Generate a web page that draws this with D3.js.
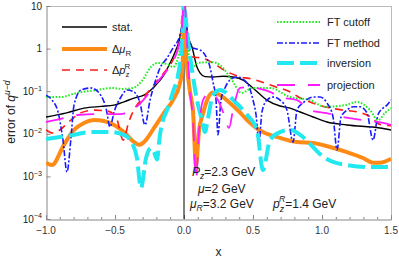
<!DOCTYPE html>
<html><head><meta charset="utf-8">
<script src="https://cdn.jsdelivr.net/npm/d3@7"></script>
<style>body{margin:0;background:#fff}svg{display:block;font-family:"Liberation Sans",Arial,sans-serif}</style>
</head><body><svg id="c" width="399" height="260"></svg>
<script>
// ---- data (x, error) ----
const stat = [[-1,0.0248],[-0.85,0.031],[-0.725,0.040],[-0.6,0.044],[-0.507,0.047],[-0.43,0.057],[-0.362,0.069],[-0.29,0.081],[-0.217,0.126],[-0.145,0.24],[-0.101,0.46],[-0.06,0.9],[-0.029,1.87],[-0.01,5],[0,15],[0.01,6],[0.022,2.3],[0.058,1.09],[0.094,0.37],[0.116,0.27],[0.152,0.22],[0.21,0.215],[0.283,0.225],[0.355,0.215],[0.428,0.183],[0.5,0.119],[0.6,0.062],[0.696,0.045],[0.768,0.040],[0.841,0.0325],[0.935,0.0248],[1.036,0.0189],[1.181,0.0161],[1.42,0.0137],[1.5,0.0123]];
const dMuR = [[-1,0.0021],[-0.957,0.00185],[-0.87,0.0055],[-0.797,0.0123],[-0.725,0.018],[-0.652,0.021],[-0.58,0.020],[-0.507,0.0161],[-0.435,0.011],[-0.362,0.0064],[-0.326,0.0055],[-0.29,0.0064],[-0.217,0.0137],[-0.145,0.031],[-0.08,0.062],[-0.03,0.15],[-0.014,0.3],[-0.004,1.0],[0.003,2.7],[0.012,1.0],[0.022,0.37],[0.045,0.09],[0.065,0.035],[0.087,0.0018],[0.109,0.012],[0.138,0.03],[0.17,0.065],[0.21,0.093],[0.25,0.085],[0.333,0.053],[0.4,0.033],[0.457,0.021],[0.52,0.014],[0.572,0.011],[0.696,0.008],[0.819,0.0064],[0.935,0.0061],[1.058,0.0049],[1.181,0.0037],[1.297,0.0027],[1.37,0.0021],[1.42,0.0021],[1.5,0.0026]];
const dPzR = [[-1,0.0123],[-0.95,0.0104],[-0.9,0.0123],[-0.82,0.021],[-0.75,0.031],[-0.65,0.036],[-0.55,0.034],[-0.49,0.0235],[-0.44,0.0071],[-0.4,0.019],[-0.35,0.043],[-0.29,0.073],[-0.2,0.165],[-0.145,0.27],[-0.08,0.54],[-0.03,1.59],[0,15],[0.03,1.59],[0.058,0.64],[0.13,0.60],[0.2,0.48],[0.3,0.30],[0.4,0.22],[0.5,0.19],[0.6,0.15],[0.667,0.126],[0.77,0.096],[0.83,0.073],[0.93,0.053],[1.0,0.045],[1.15,0.036],[1.25,0.033],[1.35,0.025],[1.42,0.0165],[1.5,0.0155]];
const ftCutoff = [[-1,0.073],[-0.9,0.073],[-0.775,0.091],[-0.63,0.107],[-0.514,0.119],[-0.45,0.113],[-0.37,0.119],[-0.3,0.183],[-0.24,0.37],[-0.19,0.46],[-0.12,0.43],[-0.08,0.37],[-0.03,0.93],[-0.007,8.1],[0,15],[0.007,10],[0.029,0.93],[0.065,0.37],[0.101,0.46],[0.21,0.48],[0.261,0.41],[0.333,0.215],[0.42,0.091],[0.493,0.119],[0.623,0.119],[0.768,0.073],[0.913,0.062],[1.022,0.043],[1.167,0.047],[1.254,0.056],[1.348,0.036],[1.406,0.021],[1.457,0.031],[1.5,0.040]];
const ftMethod = [[-1,0.081],[-0.957,0.062],[-0.913,0.0325],[-0.877,0.0071],[-0.848,0.00127],[-0.819,0.008],[-0.797,0.047],[-0.746,0.107],[-0.674,0.119],[-0.601,0.078],[-0.565,0.04],[-0.536,0.0145],[-0.507,0.0325],[-0.457,0.073],[-0.413,0.107],[-0.362,0.096],[-0.319,0.053],[-0.283,0.0161],[-0.246,0.062],[-0.21,0.164],[-0.174,0.35],[-0.123,0.60],[-0.08,1.03],[-0.029,2.1],[-0.007,6.1],[0,15],[0.007,8.1],[0.029,2.1],[0.065,1.03],[0.116,0.93],[0.152,0.71],[0.188,0.37],[0.21,0.164],[0.232,0.062],[0.246,0.0094],[0.268,0.062],[0.297,0.119],[0.333,0.183],[0.384,0.215],[0.457,0.156],[0.5,0.062],[0.522,0.028],[0.543,0.0064],[0.565,0.0325],[0.601,0.062],[0.645,0.073],[0.696,0.062],[0.746,0.036],[0.79,0.0064],[0.819,0.036],[0.862,0.053],[0.935,0.073],[0.986,0.073],[1.036,0.053],[1.08,0.0248],[1.109,0.0042],[1.138,0.0248],[1.181,0.036],[1.225,0.043],[1.275,0.043],[1.326,0.031],[1.37,0.0071],[1.406,0.028],[1.442,0.040],[1.471,0.047],[1.5,0.062]];
const inversion = [[-1,0.0075],[-0.899,0.0084],[-0.804,0.0094],[-0.681,0.011],[-0.536,0.011],[-0.435,0.0094],[-0.377,0.0061],[-0.341,0.0027],[-0.312,0.00053],[-0.275,0.0027],[-0.239,0.0046],[-0.217,0.0037],[-0.196,0.0025],[-0.174,0.0095],[-0.152,0.021],[-0.123,0.036],[-0.08,0.096],[-0.043,0.24],[-0.022,0.71],[-0.007,3.6],[0,15],[0.007,8],[0.029,1.59],[0.058,0.315],[0.094,0.062],[0.13,0.021],[0.152,0.011],[0.174,0.0235],[0.21,0.081],[0.261,0.107],[0.37,0.056],[0.457,0.028],[0.529,0.0123],[0.572,0.00141],[0.623,0.0071],[0.696,0.011],[0.768,0.0123],[0.862,0.0084],[0.935,0.0049],[1.007,0.0029],[1.08,0.0022],[1.181,0.00185],[1.326,0.00166],[1.5,0.00166]];
const projection = [[-1,0.0189],[-0.899,0.0222],[-0.754,0.028],[-0.609,0.029],[-0.464,0.029],[-0.355,0.040],[-0.283,0.069],[-0.21,0.14],[-0.138,0.27],[-0.087,0.46],[-0.043,1.03],[-0.014,3.6],[0,15],[0.007,10],[0.022,1.35],[0.043,0.107],[0.065,0.021],[0.087,0.00082],[0.109,0.0123],[0.138,0.062],[0.188,0.091],[0.246,0.062],[0.29,0.028],[0.326,0.0137],[0.355,0.036],[0.406,0.119],[0.478,0.126],[0.551,0.113],[0.623,0.096],[0.696,0.073],[0.819,0.062],[0.913,0.036],[1.022,0.031],[1.152,0.0248],[1.297,0.021],[1.442,0.018],[1.5,0.0161]];

const xTicks = [-1.0,-0.5,0.0,0.5,1.0,1.5];
const xTickLabels = ["\u22121.0","\u22120.5","0.0","0.5","1.0","1.5"];
const yTickExps = [1,0,-1,-2,-3,-4];

// ---- layout ----
const svg = d3.select("#c");
const L = 46, R = 391, T = 6, B = 219;
const x = d3.scaleLinear().domain([-1,1.5]).range([L,R]);
const y = d3.scaleLog().domain([1e-4,10]).range([B,T]);

svg.append("defs").append("clipPath").attr("id","clip")
  .append("rect").attr("x",L).attr("y",T).attr("width",R-L).attr("height",B-T);

function rich(sel, px, py, parts, fs, anchor, subOff, supOff) {
  const t = sel.append("text").attr("x",px).attr("y",py).attr("font-size",fs)
    .attr("text-anchor",anchor||"start").attr("fill","#222");
  let cur = 0;
  const so = subOff==null ? 0.3 : subOff;
  const su = supOff==null ? 0.42 : supOff;
  parts.forEach(p => {
    const [s, mode, it, dx] = p;
    const off = mode===1 ? so*fs : mode===2 ? -su*fs : 0;
    const ts = t.append("tspan").attr("dy", off-cur).text(s);
    if (dx) ts.attr("dx", dx);
    cur = off;
    if (mode) ts.attr("font-size", fs*0.72);
    if (it) ts.attr("font-style","italic");
  });
  return t;
}

// frame
const frame = svg.append("g").attr("fill","none").attr("stroke-width",1);
frame.append("line").attr("x1",L).attr("x2",R).attr("y1",T+0.5).attr("y2",T+0.5).attr("stroke","#bbb");
frame.append("line").attr("x1",R+0.5).attr("x2",R+0.5).attr("y1",T).attr("y2",B).attr("stroke","#bbb");

// x axis (ticks inward)
const xAxis = d3.axisBottom(x).tickValues(d3.range(-1,1.501,0.1)).tickSize(-2.5).tickFormat("");
const gx = svg.append("g").attr("transform",`translate(0,${B+0.5})`).call(xAxis);
gx.selectAll("line,path").attr("stroke","#888");
gx.selectAll(".tick line").filter(d => Math.abs(d*2 - Math.round(d*2))<1e-6).attr("y2",-4.5);
xTicks.forEach((v,i)=>{
  svg.append("text").attr("x",x(v)).attr("y",234).attr("text-anchor","middle")
    .attr("font-size",10).attr("fill","#333").text(xTickLabels[i]);
});

// y axis
const yAxis = d3.axisLeft(y).tickValues(yTickExps.map(e=>Math.pow(10,e))).tickSize(-4).tickFormat("");
const gy = svg.append("g").attr("transform",`translate(${L+0.5},0)`).call(yAxis);
gy.selectAll("line,path").attr("stroke","#888");
yTickExps.forEach(e=>{
  const v = Math.pow(10,e);
  if (e===1) rich(svg, 42, y(v)+3.5, [["10",0]], 10, "end");
  else if (e===0) rich(svg, 42, y(v)+3.5, [["1",0]], 10, "end");
  else rich(svg, 42, y(v)+3.5, [["10",0],["\u2212"+(-e),2]], 10, "end");
});

// vertical line at x=0
svg.append("line").attr("x1",x(0)).attr("x2",x(0)).attr("y1",T).attr("y2",B)
  .attr("stroke","#000").attr("stroke-width",1);

// series
const line = d3.line().x(d=>x(d[0])).y(d=>y(d[1])).curve(d3.curveMonotoneX);
const series = [
  {data: stat,       color:"#000000", w:1.4, dash:null},
  {data: dMuR,       color:"#ff8a16", w:4,   dash:null},
  {data: dPzR,       color:"#ff1a1a", w:1.6, dash:"8,6"},
  {data: ftCutoff,   color:"#22ee22", w:2,   dash:"1.6,1.6"},
  {data: ftMethod,   color:"#1a1aff", w:1.6, dash:"6,2,2,2"},
  {data: inversion,  color:"#22e8f0", w:4,   dash:"17,6"},
  {data: projection, color:"#ff1aff", w:1.8, dash:"18,13"}
];
const gp = svg.append("g").attr("clip-path","url(#clip)");
series.forEach(s=>{
  gp.append("path").datum(s.data).attr("d",line).attr("fill","none")
    .attr("stroke",s.color).attr("stroke-width",s.w)
    .attr("stroke-dasharray",s.dash).attr("stroke-linejoin","round");
});

// legends
const leg = svg.append("g");
function legLine(x1,x2,yy,s){
  leg.append("line").attr("x1",x1).attr("x2",x2).attr("y1",yy).attr("y2",yy)
    .attr("stroke",s.color).attr("stroke-width",s.w).attr("stroke-dasharray",s.dash);
}
legLine(62,107,27,series[0]); rich(leg,112,31,[["stat.",0]],11);
legLine(62,107,49,series[1]); rich(leg,112,53,[["\u0394",0],["\u03bc",0,true],["R",1]],11);
legLine(62,107,70,series[2]); rich(leg,112,74,[["\u0394",0],["p",0,true],["z",1],["R",2,false,-5]],11,"start",0.3,0.5);
legLine(277,320,22,series[3]); rich(leg,327,26,[["FT cutoff",0]],11);
legLine(277,320,43,series[4]); rich(leg,327,47,[["FT method",0]],11);
legLine(277,320,63,series[5]); rich(leg,327,67,[["inversion",0]],11);
legLine(277,320,85,series[6]); rich(leg,327,89,[["projection",0]],11);

// annotations
rich(svg,192,176,[["P",0,true],["z",1,true],["=2.3 GeV",0]],12,"start",0.25);
rich(svg,198,193,[["\u03bc",0,true],["=2 GeV",0]],12);
rich(svg,190,208,[["\u03bc",0,true],["R",1,true],["=3.2 GeV",0]],12,"start",0.25);
rich(svg,273,208,[["p",0,true],["z",1,true],["R",2,true,-5],["=1.4 GeV",0]],12,"start",0.3,0.5);

// axis labels
svg.append("text").attr("x",x(0.25)).attr("y",256).attr("text-anchor","middle")
  .attr("font-size",12).attr("fill","#222").text("x");
const yl = rich(svg,0,0,[["error of ",0],["q",0,true],["u\u2212d",2,true]],12,"middle");
yl.attr("transform","translate(15,112) rotate(-90)");
</script></body></html>
